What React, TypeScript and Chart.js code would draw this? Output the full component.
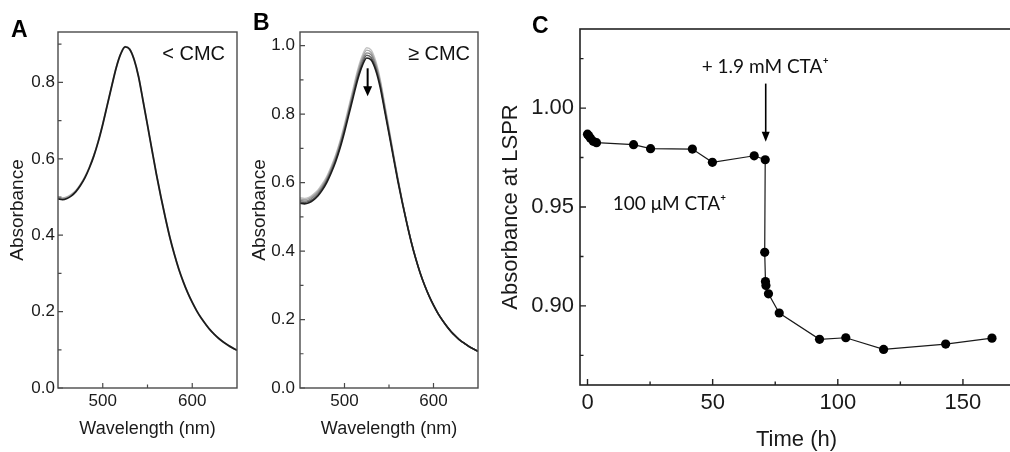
import React, { useEffect, useRef } from "react";
import { Chart, registerables } from "chart.js";

Chart.register(...registerables);

// ---------- data ----------
const WAVELENGTH_NM = [
  450, 455, 460, 465, 470, 475, 480, 485, 490, 495, 500, 505, 510, 515, 520, 525, 530, 535, 540, 545,
  550, 555, 560, 565, 570, 575, 580, 585, 590, 595, 600, 605, 610, 615, 620, 625, 630, 635, 640, 645, 650,
];

// Panel A (< CMC): nearly overlapping spectra
const ABS_A_LAST = [
  0.495, 0.493, 0.496, 0.503, 0.514, 0.53, 0.55, 0.576, 0.607, 0.645, 0.69, 0.74, 0.79, 0.838, 0.874, 0.893, 0.887, 0.86, 0.815, 0.752,
  0.688, 0.623, 0.559, 0.5, 0.445, 0.394, 0.35, 0.311, 0.278, 0.249, 0.224, 0.202, 0.183, 0.167, 0.152, 0.14, 0.129, 0.12, 0.112, 0.105, 0.099,
];
const ABS_A_FIRST = [
  0.499, 0.497, 0.5, 0.507, 0.517, 0.533, 0.553, 0.578, 0.609, 0.647, 0.691, 0.741, 0.791, 0.839, 0.875, 0.894, 0.888, 0.861, 0.816, 0.753,
  0.688, 0.623, 0.559, 0.5, 0.445, 0.394, 0.35, 0.311, 0.278, 0.249, 0.224, 0.202, 0.183, 0.167, 0.152, 0.14, 0.129, 0.12, 0.112, 0.105, 0.099,
];

// Panel B (>= CMC): spectra decreasing over time (first = lightest)
const ABS_B_1 = [
  0.556, 0.554, 0.557, 0.566, 0.578, 0.596, 0.618, 0.647, 0.681, 0.722, 0.771, 0.824, 0.878, 0.931, 0.971, 0.994, 0.987, 0.956, 0.904, 0.832,
  0.759, 0.685, 0.613, 0.546, 0.485, 0.429, 0.38, 0.337, 0.301, 0.269, 0.242, 0.218, 0.198, 0.18, 0.164, 0.151, 0.139, 0.13, 0.121, 0.114, 0.107,
];
const ABS_B_2 = [
  0.552, 0.55, 0.553, 0.562, 0.574, 0.591, 0.613, 0.642, 0.676, 0.717, 0.765, 0.818, 0.871, 0.924, 0.964, 0.987, 0.98, 0.949, 0.898, 0.827,
  0.755, 0.682, 0.611, 0.545, 0.484, 0.428, 0.38, 0.337, 0.301, 0.269, 0.242, 0.218, 0.198, 0.18, 0.164, 0.151, 0.139, 0.13, 0.121, 0.114, 0.107,
];
const ABS_B_3 = [
  0.548, 0.546, 0.549, 0.558, 0.57, 0.587, 0.609, 0.638, 0.671, 0.712, 0.76, 0.812, 0.865, 0.917, 0.957, 0.979, 0.973, 0.943, 0.892, 0.822,
  0.751, 0.679, 0.609, 0.543, 0.483, 0.428, 0.379, 0.336, 0.3, 0.269, 0.242, 0.218, 0.198, 0.18, 0.164, 0.151, 0.139, 0.13, 0.121, 0.114, 0.107,
];
const ABS_B_4 = [
  0.544, 0.542, 0.545, 0.553, 0.565, 0.583, 0.605, 0.633, 0.666, 0.706, 0.754, 0.806, 0.859, 0.91, 0.949, 0.972, 0.965, 0.936, 0.886, 0.817,
  0.747, 0.676, 0.606, 0.542, 0.482, 0.427, 0.378, 0.336, 0.3, 0.269, 0.242, 0.218, 0.198, 0.18, 0.164, 0.151, 0.139, 0.13, 0.121, 0.114, 0.107,
];
const ABS_B_5 = [
  0.54, 0.538, 0.541, 0.549, 0.561, 0.578, 0.6, 0.628, 0.661, 0.701, 0.748, 0.8, 0.852, 0.903, 0.942, 0.964, 0.958, 0.929, 0.88, 0.812,
  0.743, 0.673, 0.604, 0.54, 0.481, 0.426, 0.378, 0.336, 0.3, 0.269, 0.242, 0.218, 0.198, 0.18, 0.164, 0.151, 0.139, 0.13, 0.121, 0.114, 0.107,
];

// Panel C: absorbance at LSPR vs time
const TIME_H = [0, 0.5, 1.2, 2.3, 3.6, 18.4, 25.2, 41.9, 49.9, 66.6, 71.0, 70.8, 71.1, 71.3, 72.3, 76.6, 92.7, 103.2, 118.3, 143.1, 161.6];
const ABS_LSPR = [
  0.9868, 0.986, 0.9847, 0.9832, 0.9825, 0.9815, 0.9795, 0.9793, 0.9726, 0.9759, 0.9739, 0.9271, 0.9123, 0.9103, 0.9061, 0.8964,
  0.8831, 0.8839, 0.878, 0.8807, 0.8837,
];

// ticks
const WL_TICKS = [500, 600];
const WL_MINOR = [550];
const A_Y_TICKS = [0, 0.2, 0.4, 0.6, 0.8];
const A_Y_MINOR = [0.1, 0.3, 0.5, 0.7, 0.9];
const B_Y_TICKS = [0, 0.2, 0.4, 0.6, 0.8, 1.0];
const B_Y_MINOR = [0.1, 0.3, 0.5, 0.7, 0.9];
const C_X_TICKS = [0, 50, 100, 150];
const C_X_MINOR = [25, 75, 125];
const C_Y_TICKS = [0.9, 0.95, 1.0];
const C_Y_MINOR = [0.875, 0.925, 0.975, 1.025];

// ---------- helpers ----------
const SANS = "'Liberation Sans', Arial, Helvetica, sans-serif";
const NOTE = "Lato, 'Open Sans', 'DejaVu Sans', sans-serif";
const INK = "#1a1a1a";

const pts = (xs: number[], ys: number[]) => xs.map((x, i) => ({ x, y: ys[i] }));

function axis(o: any) {
  return {
    type: "linear",
    position: o.horizontal ? "bottom" : "left",
    min: o.min,
    max: o.max,
    afterBuildTicks: (s: any) => {
      s.ticks = o.ticks.map((v: number) => ({ value: v }));
    },
    afterFit: (s: any) => {
      if (o.horizontal) s.height = o.size;
      else s.width = o.size;
    },
    grid: { display: false, drawTicks: false },
    border: { display: false },
    ticks: {
      autoSkip: false,
      maxRotation: 0,
      padding: o.pad,
      color: INK,
      font: { family: SANS, size: o.fontSize },
      callback: (v: number) => o.fmt(v),
    },
    title: {
      display: true,
      text: o.title,
      color: INK,
      font: { family: SANS, size: o.titleSize, lineHeight: o.titleLH || 1.2 },
      padding: o.titlePad,
    },
  };
}

function decor(d: any) {
  return {
    id: "decor",
    afterDraw(chart: any) {
      const { ctx, chartArea: ca } = chart;
      const xs = chart.scales.x;
      const ys = chart.scales.y;
      ctx.save();
      ctx.strokeStyle = d.frameColor;
      ctx.lineWidth = d.frameWidth;
      ctx.strokeRect(ca.left, ca.top, ca.right - ca.left, ca.bottom - ca.top);
      ctx.lineWidth = d.tickWidth;
      ctx.beginPath();
      const xt = (vals: number[], len: number) =>
        vals.forEach((v) => {
          const p = xs.getPixelForValue(v);
          ctx.moveTo(p, ca.bottom);
          ctx.lineTo(p, ca.bottom - len);
        });
      const yt = (vals: number[], len: number) =>
        vals.forEach((v) => {
          const p = ys.getPixelForValue(v);
          ctx.moveTo(ca.left, p);
          ctx.lineTo(ca.left + len, p);
        });
      xt(d.xMajor, d.majorLen);
      xt(d.xMinor, d.minorLen);
      yt(d.yMajor, d.majorLen);
      yt(d.yMinor, d.minorLen);
      ctx.stroke();

      (d.arrows || []).forEach((a: any) => {
        const x = xs.getPixelForValue(a.x);
        const y1 = ys.getPixelForValue(a.from);
        const y2 = ys.getPixelForValue(a.to);
        ctx.strokeStyle = "#000";
        ctx.lineWidth = a.width;
        ctx.beginPath();
        ctx.moveTo(x, y1);
        ctx.lineTo(x, y2 - a.headLen + 1);
        ctx.stroke();
        ctx.fillStyle = "#000";
        ctx.beginPath();
        ctx.moveTo(x - a.headW / 2, y2 - a.headLen);
        ctx.lineTo(x + a.headW / 2, y2 - a.headLen);
        ctx.lineTo(x, y2);
        ctx.closePath();
        ctx.fill();
      });

      (d.texts || []).forEach((t: any) => {
        ctx.font = t.font;
        ctx.fillStyle = t.color || "#111";
        ctx.textAlign = t.align;
        ctx.textBaseline = "alphabetic";
        const [x, y] = t.at(ca, xs, ys);
        ctx.fillText(t.text, x, y);
      });
      ctx.restore();
    },
  };
}

const baseOptions = (padding: any) => ({
  responsive: false,
  animation: false,
  devicePixelRatio: 1,
  layout: { padding },
  plugins: { legend: { display: false }, tooltip: { enabled: false } },
});

const lineDs = (data: any, color: string, width: number) => ({
  data,
  showLine: true,
  borderColor: color,
  borderWidth: width,
  pointRadius: 0,
  cubicInterpolationMode: "monotone",
});

// ---------- configs ----------
function configA(): any {
  return {
    type: "scatter",
    data: {
      datasets: [
        lineDs(pts(WAVELENGTH_NM, ABS_A_LAST), "#1c1c1c", 1.8),
        lineDs(pts(WAVELENGTH_NM, ABS_A_FIRST), "#a8a8a8", 1.6),
      ],
    },
    options: {
      ...baseOptions({ top: 32, right: 8, left: 0, bottom: 4 }),
      scales: {
        x: axis({ horizontal: true, min: 450, max: 650, ticks: WL_TICKS, fmt: (v: number) => String(v), size: 60, fontSize: 17, pad: 3, title: "Wavelength (nm)", titleSize: 18, titlePad: { top: 0, bottom: 8 } }),
        y: axis({ min: 0, max: 0.932, ticks: A_Y_TICKS, fmt: (v: number) => v.toFixed(1), size: 58, fontSize: 17, pad: 3, title: "Absorbance", titleSize: 19, titlePad: { top: 6, bottom: 0 } }),
      },
    },
    plugins: [
      decor({
        frameColor: "#4a4a4a", frameWidth: 1.4, tickWidth: 1.2, majorLen: 5, minorLen: 3.5,
        xMajor: WL_TICKS, xMinor: WL_MINOR, yMajor: A_Y_TICKS, yMinor: A_Y_MINOR,
        texts: [
          { text: "< CMC", font: `20px ${SANS}`, align: "right", at: (ca: any) => [ca.right - 12, ca.top + 28] },
          { text: "A", font: `bold 23px ${SANS}`, align: "left", color: "#000", at: () => [11, 37] },
        ],
      }),
    ],
  };
}

function configB(): any {
  return {
    type: "scatter",
    data: {
      datasets: [
        lineDs(pts(WAVELENGTH_NM, ABS_B_5), "#1e1e1e", 1.7),
        lineDs(pts(WAVELENGTH_NM, ABS_B_4), "#5e5e5e", 1.4),
        lineDs(pts(WAVELENGTH_NM, ABS_B_3), "#858585", 1.4),
        lineDs(pts(WAVELENGTH_NM, ABS_B_2), "#a5a5a5", 1.4),
        lineDs(pts(WAVELENGTH_NM, ABS_B_1), "#c2c2c2", 1.4),
      ],
    },
    options: {
      ...baseOptions({ top: 32, right: 9, left: 0, bottom: 4 }),
      scales: {
        x: axis({ horizontal: true, min: 450, max: 650, ticks: WL_TICKS, fmt: (v: number) => String(v), size: 60, fontSize: 17, pad: 3, title: "Wavelength (nm)", titleSize: 18, titlePad: { top: 0, bottom: 8 } }),
        y: axis({ min: 0, max: 1.04, ticks: B_Y_TICKS, fmt: (v: number) => v.toFixed(1), size: 58, fontSize: 17, pad: 5, title: "Absorbance", titleSize: 19, titlePad: { top: 6, bottom: 0 } }),
      },
    },
    plugins: [
      decor({
        frameColor: "#4a4a4a", frameWidth: 1.4, tickWidth: 1.2, majorLen: 5, minorLen: 3.5,
        xMajor: WL_TICKS, xMinor: WL_MINOR, yMajor: B_Y_TICKS, yMinor: B_Y_MINOR,
        arrows: [{ x: 526, from: 0.934, to: 0.852, width: 2, headW: 9, headLen: 10 }],
        texts: [
          { text: "≥ CMC", font: `20px ${SANS}`, align: "right", at: (ca: any) => [ca.right - 8, ca.top + 28] },
          { text: "B", font: `bold 23px ${SANS}`, align: "left", color: "#000", at: () => [11, 30] },
        ],
      }),
    ],
  };
}

function configC(): any {
  return {
    type: "scatter",
    data: {
      datasets: [
        {
          data: pts(TIME_H, ABS_LSPR),
          showLine: true,
          borderColor: "#1a1a1a",
          borderWidth: 1.2,
          pointRadius: 4.6,
          pointBackgroundColor: "#000",
          pointBorderColor: "#000",
          pointBorderWidth: 0,
          tension: 0,
        },
      ],
    },
    options: {
      ...baseOptions({ top: 29, right: 12, left: 0, bottom: 0 }),
      scales: {
        x: axis({ horizontal: true, min: -3, max: 170, ticks: C_X_TICKS, fmt: (v: number) => String(v), size: 67, fontSize: 22, pad: 5, title: "Time (h)", titleSize: 22, titleLH: 1, titlePad: { top: 0, bottom: 1 } }),
        y: axis({ min: 0.86, max: 1.04, ticks: C_Y_TICKS, fmt: (v: number) => v.toFixed(2), size: 80, fontSize: 22, pad: 6, title: "Absorbance at LSPR", titleSize: 22, titleLH: 1, titlePad: { top: 0, bottom: 0 } }),
      },
    },
    plugins: [
      decor({
        frameColor: "#222", frameWidth: 1.6, tickWidth: 1.4, majorLen: 6, minorLen: 3.5,
        xMajor: C_X_TICKS, xMinor: C_X_MINOR, yMajor: C_Y_TICKS, yMinor: C_Y_MINOR,
        arrows: [{ x: 71.2, from: 1.0124, to: 0.983, width: 1.6, headW: 8, headLen: 10 }],
        texts: [
          { text: "+ 1.9 mM CTA⁺", font: `19px ${NOTE}`, align: "center", at: (ca: any, xs: any, ys: any) => [xs.getPixelForValue(71), ys.getPixelForValue(1.0176)] },
          { text: "100 μM CTA⁺", font: `19px ${NOTE}`, align: "left", at: (ca: any, xs: any, ys: any) => [xs.getPixelForValue(10.1), ys.getPixelForValue(0.9485)] },
          { text: "C", font: `bold 23px ${SANS}`, align: "left", color: "#000", at: () => [32, 33] },
        ],
      }),
    ],
  };
}

// ---------- components ----------
function Panel({ left, width, height, build }: { left: number; width: number; height: number; build: () => any }) {
  const ref = useRef<HTMLCanvasElement | null>(null);
  useEffect(() => {
    if (!ref.current) return;
    const chart = new Chart(ref.current, build());
    return () => chart.destroy();
  }, []);
  return (
    <canvas
      ref={ref}
      width={width}
      height={height}
      style={{ position: "absolute", left, top: 0, width, height, display: "block" }}
    />
  );
}

export default function App() {
  return (
    <div style={{ position: "fixed", left: 0, top: 0, width: 1010, height: 452, overflow: "hidden", background: "#fff" }}>
      <Panel left={0} width={245} height={452} build={configA} />
      <Panel left={242} width={245} height={452} build={configB} />
      <Panel left={500} width={525} height={452} build={configC} />
    </div>
  );
}
